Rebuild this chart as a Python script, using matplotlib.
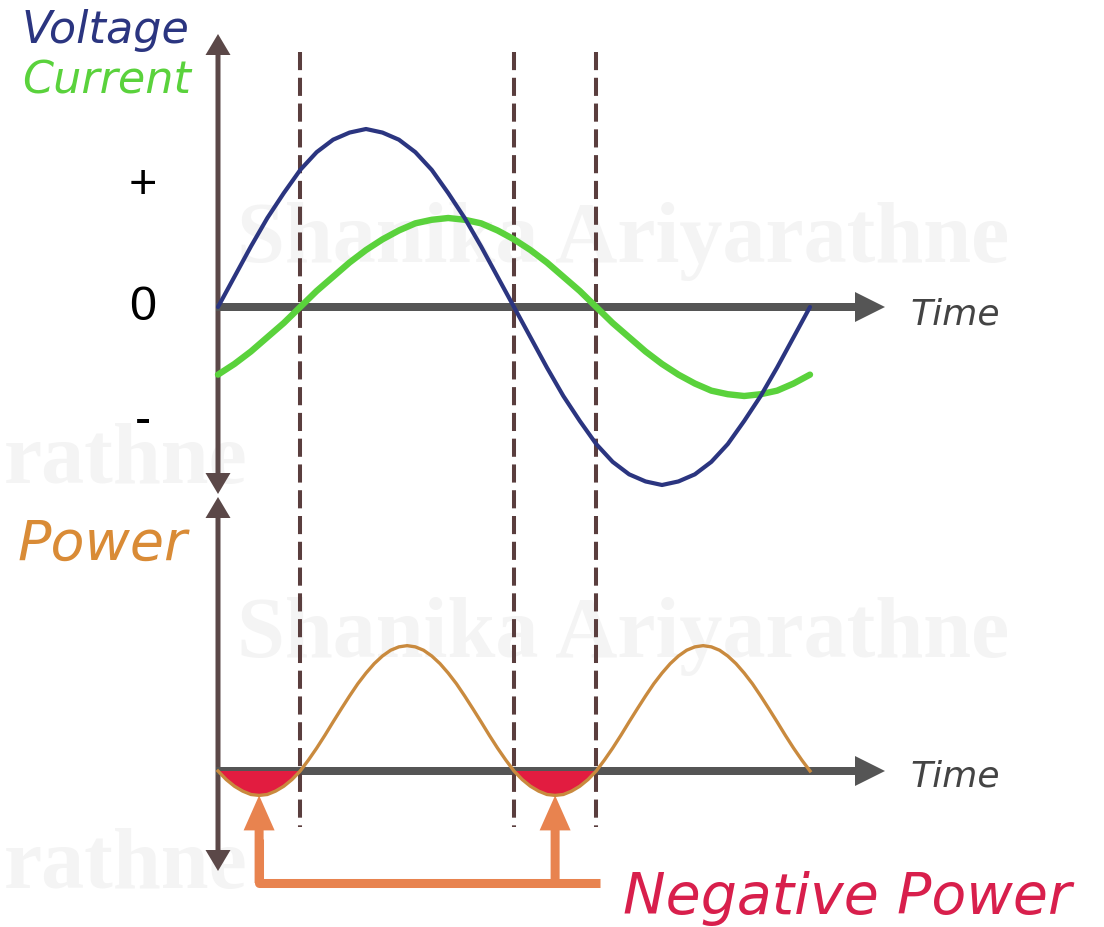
import numpy as np
import matplotlib
matplotlib.use("Agg")
import matplotlib.pyplot as plt
from matplotlib.transforms import blended_transform_factory

# ---------------- data ----------------
time_deg = [0, 10, 20, 30, 40, 50, 60, 70, 80, 90, 100, 110, 120, 130, 140, 150, 160, 170, 180,
            190, 200, 210, 220, 230, 240, 250, 260, 270, 280, 290, 300, 310, 320, 330, 340, 350, 360]
voltage = [0.00, 0.17, 0.34, 0.50, 0.64, 0.77, 0.87, 0.94, 0.98, 1.00, 0.98, 0.94, 0.87, 0.77, 0.64,
           0.50, 0.34, 0.17, 0.00, -0.17, -0.34, -0.50, -0.64, -0.77, -0.87, -0.94, -0.98, -1.00,
           -0.98, -0.94, -0.87, -0.77, -0.64, -0.50, -0.34, -0.17, 0.00]
current = [-0.38, -0.32, -0.25, -0.17, -0.09, 0.00, 0.09, 0.17, 0.25, 0.32, 0.38, 0.43, 0.47, 0.49,
           0.50, 0.49, 0.47, 0.43, 0.38, 0.32, 0.25, 0.17, 0.09, 0.00, -0.09, -0.17, -0.25, -0.32,
           -0.38, -0.43, -0.47, -0.49, -0.50, -0.49, -0.47, -0.43, -0.38]
power_time_deg = [0, 5, 10, 15, 20, 25, 30, 35, 40, 45, 50, 55, 60, 65, 70, 75, 80, 85, 90,
                  95, 100, 105, 110, 115, 120, 125, 130, 135, 140, 145, 150, 155, 160, 165, 170,
                  175, 180, 185, 190, 195, 200, 205, 210, 215, 220, 225, 230, 235, 240, 245, 250,
                  255, 260, 265, 270, 275, 280, 285, 290, 295, 300, 305, 310, 315, 320, 325, 330,
                  335, 340, 345, 350, 355, 360]
power = [0.000, -0.028, -0.050, -0.066, -0.077, -0.080, -0.077, -0.066, -0.050, -0.028, 0.000,
         0.036, 0.075, 0.117, 0.161, 0.204, 0.246, 0.286, 0.321, 0.352, 0.377, 0.396, 0.407,
         0.411, 0.407, 0.396, 0.377, 0.352, 0.321, 0.286, 0.246, 0.204, 0.161, 0.117, 0.075,
         0.036, 0.000,
         -0.028, -0.050, -0.066, -0.077, -0.080, -0.077, -0.066, -0.050, -0.028, 0.000,
         0.036, 0.075, 0.117, 0.161, 0.204, 0.246, 0.286, 0.321, 0.352, 0.377, 0.396, 0.407,
         0.411, 0.407, 0.396, 0.377, 0.352, 0.321, 0.286, 0.246, 0.204, 0.161, 0.117, 0.075,
         0.036, 0.000]
phase_marks_deg = [50, 180, 230]
level_labels = ["+", "0", "-"]
level_values = [0.69, 0.0, -0.64]

# ---------------- styles / layout ----------------
W, H = 1104, 928
PX_PER_DEG = 296 / 180
T0_PX = 218
V_ZERO_PX, V_UNIT_PX = 308, 178
P_ZERO_PX, P_UNIT_PX = 772, 305
SPLIT_PX = 500

NAVY = "#2b3580"
GREEN = "#5ad23c"
BROWN = "#c98a3e"
CRIMSON = "#e21c40"
ORANGE = "#e8834f"
AXIS_V = "#5b4848"
AXIS_H = "#555555"
DASH = "#5a3e3e"
WM = "#f4f4f4"

t = np.array(time_deg, dtype=float)
v = np.array(voltage)
i = np.array(current)
tp = np.array(power_time_deg, dtype=float)
p = np.array(power)

fig = plt.figure(figsize=(W / 100, H / 100), dpi=100)
fig.patch.set_facecolor("white")

axo = fig.add_axes([0, 0, 1, 1])
axo.set_xlim(0, W)
axo.set_ylim(H, 0)
axo.axis("off")

xlim = (-T0_PX / PX_PER_DEG, (W - T0_PX) / PX_PER_DEG)
ax1 = fig.add_axes([0, 1 - SPLIT_PX / H, 1, SPLIT_PX / H])
ax1.set_xlim(*xlim)
ax1.set_ylim(-(SPLIT_PX - V_ZERO_PX) / V_UNIT_PX, V_ZERO_PX / V_UNIT_PX)
ax1.axis("off")

ax2 = fig.add_axes([0, 0, 1, (H - SPLIT_PX) / H])
ax2.set_xlim(*xlim)
ax2.set_ylim(-(H - P_ZERO_PX) / P_UNIT_PX, (P_ZERO_PX - SPLIT_PX) / P_UNIT_PX)
ax2.axis("off")


def to_px(ax, x, y):
    return axo.transData.inverted().transform(ax.transData.transform((x, y)))


# ---- watermark ----
wm_font = dict(family=["Liberation Sans Narrow", "Liberation Serif"], color=WM, fontsize=62,
               fontweight="bold", zorder=0)
axo.text(237, 262, "Shanika Ariyarathne", ha="left", va="baseline", **wm_font)
axo.text(237, 657, "Shanika Ariyarathne", ha="left", va="baseline", **wm_font)
axo.text(4, 483, "rathne", ha="left", va="baseline", **wm_font)
axo.text(4, 888, "rathne", ha="left", va="baseline", **wm_font)

# ---- axes arrows ----
def arrow(x0, y0, x1, y1, width, hw, hl, color):
    axo.arrow(x0, y0, x1 - x0, y1 - y0, width=width, head_width=hw, head_length=hl,
              length_includes_head=True, color=color, lw=0, zorder=2)

x_axis_px, _ = to_px(ax1, 0, 0)
arrow(x_axis_px, 265, x_axis_px, 35, 5, 25, 21, AXIS_V)
arrow(x_axis_px, 265, x_axis_px, 495, 5, 25, 21, AXIS_V)
arrow(x_axis_px, 685, x_axis_px, 498, 5, 25, 21, AXIS_V)
arrow(x_axis_px, 685, x_axis_px, 872, 5, 25, 21, AXIS_V)
arrow(x_axis_px - 2, V_ZERO_PX, 885, V_ZERO_PX, 8, 30, 30, AXIS_H)
arrow(x_axis_px - 2, P_ZERO_PX, 885, P_ZERO_PX, 8, 30, 30, AXIS_H)

# ---- dashed phase markers spanning both panels ----
trans_dash = blended_transform_factory(ax1.transData, axo.transData)
for tm in phase_marks_deg:
    ax1.plot([tm, tm], [53, 828], transform=trans_dash, clip_on=False, color=DASH,
             lw=2.9, linestyle=(0, (4.5, 1.9)), zorder=2)

# ---- curves ----
ax1.plot(t, i, color=GREEN, lw=4.6, solid_joinstyle="round", solid_capstyle="round", zorder=3)
ax1.plot(t, v, color=NAVY, lw=3.0, solid_joinstyle="round", solid_capstyle="round", zorder=4)

ax2.fill_between(tp, p, 0, where=p <= 0, interpolate=True, color=CRIMSON, lw=0, zorder=2)
ax2.plot(tp, p, color=BROWN, lw=2.4, solid_joinstyle="round", zorder=3)

# ---- level labels ----
trans_lvl = blended_transform_factory(axo.transData, ax1.transData)
for lab, val in zip(level_labels, level_values):
    ax1.text(143, val, lab, transform=trans_lvl, ha="center", va="center",
             fontsize=35, family="Liberation Sans", color="black", zorder=5)

# ---- titles ----
lab_font = dict(family="DejaVu Sans", style="italic")
axo.text(22, 43, "Voltage", color=NAVY, fontsize=32, ha="left", va="baseline", **lab_font)
axo.text(22, 93, "Current", color=GREEN, fontsize=32, ha="left", va="baseline", **lab_font)
axo.text(18, 560, "Power", color="#d98b36", fontsize=40, ha="left", va="baseline", **lab_font)
axo.text(910, 325, "Time", color="#444444", fontsize=26, ha="left", va="baseline", **lab_font)
axo.text(910, 787, "Time", color="#444444", fontsize=26, ha="left", va="baseline", **lab_font)
axo.text(623, 914, "Negative Power", color="#d81f4c", fontsize=41, ha="left", va="baseline",
         **lab_font)

# ---- negative power pointers ----
neg = p < 0
centers, depths = [], []
k = 0
while k < len(p):
    if neg[k]:
        j = k
        while j + 1 < len(p) and neg[j + 1]:
            j += 1
        centers.append((tp[k - 1] + tp[j + 1]) / 2)
        depths.append(p[k:j + 1].min())
        k = j + 1
    else:
        k += 1

bracket_y = 884
xs = []
for c, d in zip(centers, depths):
    xp, yp = to_px(ax2, c, d)
    xs.append(xp)
    axo.arrow(xp, bracket_y, 0, yp - bracket_y, width=9, head_width=31, head_length=35,
              length_includes_head=True, color=ORANGE, lw=0, zorder=2)
axo.plot([xs[0], xs[0], 600], [840, bracket_y, bracket_y], color=ORANGE, lw=6.5,
         solid_joinstyle="round", solid_capstyle="butt", zorder=2)

fig.savefig("out.png", dpi=100, facecolor="white")
